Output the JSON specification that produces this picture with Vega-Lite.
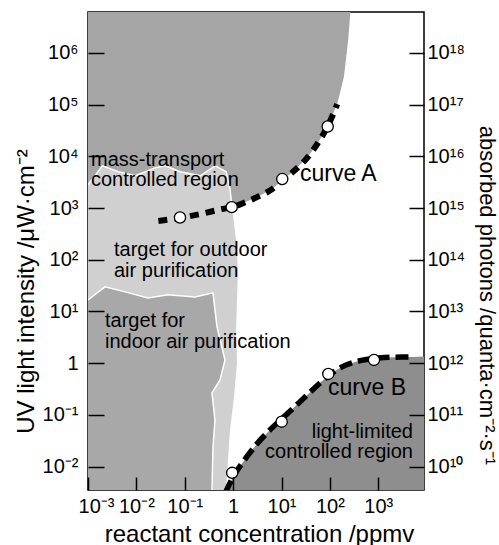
{
  "$schema": "https://vega.github.io/schema/vega-lite/v6.json",
  "width": 336,
  "height": 478,
  "autosize": "none",
  "padding": {"left": 88, "top": 12, "right": 75, "bottom": 55},
  "background": "white",
  "config": {
    "font": "Liberation Sans, Arial, sans-serif",
    "view": {"stroke": "black", "strokeWidth": 1.5},
    "axis": {"domain": false, "grid": false, "labelFontSize": 20, "labelColor": "black", "titleFontSize": 24, "titleFontWeight": "normal", "titleColor": "black", "labelOverlap": false, "labelFlush": false}
  },
  "datasets": {
    "mt": [{"x":0.001,"y":2812},{"x":0.001991,"y":6546},{"x":0.004256,"y":5012},{"x":0.009528,"y":4198},{"x":0.02466,"y":5998},{"x":0.03963,"y":6546},{"x":0.08072,"y":5012},{"x":0.2089,"y":4198},{"x":0.4256,"y":6546},{"x":0.7178,"y":5012},{"x":0.867,"y":2249},{"x":0.9397,"y":1040},{"x":1.766,"y":1288},{"x":3.273,"y":1660},{"x":6.683,"y":2399},{"x":10.38,"y":3467},{"x":17.26,"y":5012},{"x":35.16,"y":9772},{"x":56.62,"y":18197},{"x":89.74,"y":38019},{"x":141.6,"y":102329},{"x":194.5,"y":345100},{"x":235,"y":1567000},{"x":264.9,"y":6152000}],
    "scallop": [{"x":0.001,"y":2812},{"x":0.001991,"y":6546},{"x":0.004256,"y":5012},{"x":0.009528,"y":4198},{"x":0.02466,"y":5998},{"x":0.03963,"y":6546},{"x":0.08072,"y":5012},{"x":0.2089,"y":4198},{"x":0.4256,"y":6546},{"x":0.7178,"y":5012},{"x":0.867,"y":2249},{"x":0.9397,"y":1040}],
    "lg": [{"y":6855,"x":0.8197},{"y":1059,"x":0.9458},{"y":242.7,"x":1.144},{"y":63.83,"x":1.258},{"y":16.75,"x":1.2},{"y":4.406,"x":1.144},{"y":1.014,"x":1.2},{"y":0.2228,"x":1.04},{"y":0.05129,"x":0.8601},{"y":0.01346,"x":0.7819},{"y":0.00354,"x":0.7112},{"y":0.002239,"x":0.691}],
    "indv": [{"x":0.001,"y":16.75},{"x":0.002244,"y":29.92},{"x":0.005818,"y":23.93},{"x":0.01738,"y":18.32},{"x":0.04498,"y":20.94},{"x":0.1626,"y":19.14},{"x":0.3828,"y":22.91}],
    "indh": [{"y":16.03,"x":0.401},{"y":5.035,"x":0.4634},{"y":1.159,"x":0.6776},{"y":0.4753,"x":0.5346},{"y":0.2667,"x":0.3647},{"y":0.08017,"x":0.4206},{"y":0.02404,"x":0.3828},{"y":0.00354,"x":0.3647},{"y":0.002239,"x":0.3647}],
    "outline": [{"o":1,"x":0.001,"y":16.75},{"o":2,"x":0.002244,"y":29.92},{"o":3,"x":0.005818,"y":23.93},{"o":4,"x":0.01738,"y":18.32},{"o":5,"x":0.04498,"y":20.94},{"o":6,"x":0.1626,"y":19.14},{"o":7,"x":0.3828,"y":22.91},{"o":8,"x":0.4634,"y":5.035},{"o":9,"x":0.6776,"y":1.159},{"o":10,"x":0.5346,"y":0.4753},{"o":11,"x":0.3647,"y":0.2667},{"o":12,"x":0.4206,"y":0.08017},{"o":13,"x":0.3828,"y":0.02404},{"o":14,"x":0.3647,"y":0.00354}],
    "ll": [{"x":0.6918,"y":0.003162},{"x":1,"y":0.00631},{"x":1.778,"y":0.01413},{"x":3.162,"y":0.02818},{"x":5.623,"y":0.05012},{"x":10,"y":0.08318},{"x":17.78,"y":0.138},{"x":31.62,"y":0.2291},{"x":56.23,"y":0.3802},{"x":100,"y":0.6026},{"x":177.8,"y":0.8511},{"x":316.2,"y":1.047},{"x":562.3,"y":1.175},{"x":1000,"y":1.259},{"x":1778,"y":1.303},{"x":5012,"y":1.318},{"x":8790,"y":1.349}],
    "curveA": [{"x":0.02844,"y":562.3},{"x":0.0807,"y":645.7},{"x":0.2265,"y":776.2},{"x":0.5848,"y":955},{"x":0.94,"y":1040},{"x":1.766,"y":1288},{"x":3.273,"y":1660},{"x":6.683,"y":2399},{"x":10.38,"y":3467},{"x":17.26,"y":5012},{"x":35.16,"y":9772},{"x":56.62,"y":18197},{"x":89.74,"y":38019},{"x":141.6,"y":102329}],
    "curveB": [{"x":0.6918,"y":0.003162},{"x":1,"y":0.00631},{"x":1.778,"y":0.01413},{"x":3.162,"y":0.02818},{"x":5.623,"y":0.05012},{"x":10,"y":0.08318},{"x":17.78,"y":0.138},{"x":31.62,"y":0.2291},{"x":56.23,"y":0.3802},{"x":100,"y":0.6026},{"x":177.8,"y":0.8511},{"x":316.2,"y":1.047},{"x":562.3,"y":1.175},{"x":1000,"y":1.259},{"x":1778,"y":1.303},{"x":5012,"y":1.318}],
    "pts": [{"x":0.0796,"y":655},{"x":0.933,"y":1040},{"x":10.35,"y":3631},{"x":89.9,"y":37670},{"x":0.955,"y":0.00759},{"x":10.07,"y":0.0741},{"x":92.5,"y":0.621},{"x":813,"y":1.159}],
    "txtL": [{"t":"mass-transport","x":0.001153,"y":6546},{"t":"controlled region","x":0.001153,"y":2692},{"t":"target for outdoor","x":0.003443,"y":120.5},{"t":"air purification","x":0.003443,"y":47.32},{"t":"target for","x":0.002244,"y":5.105},{"t":"indoor air purification","x":0.002244,"y":1.95}],
    "txtC": [{"t":"curve A","x":24.05,"y":3258},{"t":"curve B","x":91.2,"y":0.2438}],
    "txtR": [{"t":"light-limited","x":5200,"y":0.0359},{"t":"controlled region","x":5200,"y":0.01472}],
    "rax": [{"yr":1e10},{"yr":1e18}]
  },
  "layer": [
    {
      "layer": [
        {
          "data": {"name": "lg"},
          "mark": {"type": "area", "orient": "horizontal", "color": "#d0d0d0", "clip": true},
          "encoding": {
            "x": {"field": "x", "type": "quantitative", "scale": {"type": "log", "domain": [0.001, 8790]},
              "axis": {"orient": "bottom", "zindex": 2, "offset": -13, "values": [0.001, 0.01, 0.1, 1, 10, 100, 1000], "ticks": true, "tickColor": "black", "tickWidth": 1.5, "tickOpacity": 1, "tickSize": 13, "labelPadding": 6,
                "labelExpr": "['10⁻³','10⁻²','10⁻¹','1','10¹','10²','10³'][round(log(datum.value)/LN10)+3]",
                "labelOffset": {"condition": {"test": "datum.value < 0.002", "value": 8}, "value": 0},
                "title": "reactant concentration /ppmv", "titleX": 171, "titleY": 64, "titleBaseline": "alphabetic", "titleAlign": "center"}},
            "x2": {"datum": 0.001},
            "y": {"field": "y", "type": "quantitative", "scale": {"type": "log", "domain": [0.00354, 6152000]},
              "axis": {"orient": "left", "zindex": 2, "offset": -16, "values": [0.01, 0.1, 1, 10, 100, 1000, 10000, 100000, 1000000], "ticks": true, "tickColor": "black", "tickWidth": 1.5, "tickOpacity": 1, "tickSize": 16, "labelPadding": 10,
                "labelExpr": "['10⁻²','10⁻¹','1','10¹','10²','10³','10⁴','10⁵','10⁶'][round(log(datum.value)/LN10)+2]",
                "title": "UV light intensity /μW·cm⁻²", "titleX": -71, "titleY": 279, "titleAngle": -90, "titleBaseline": "alphabetic", "titleAlign": "center"}}
          }
        },
        {
          "data": {"name": "indv"},
          "mark": {"type": "area", "orient": "vertical", "color": "#a8a8a8", "clip": true},
          "encoding": {
            "x": {"field": "x", "type": "quantitative", "scale": {"type": "log", "domain": [0.001, 8790]}},
            "y": {"field": "y", "type": "quantitative", "scale": {"type": "log", "domain": [0.00354, 6152000]}},
            "y2": {"datum": 0.003}
          }
        },
        {
          "data": {"name": "indh"},
          "mark": {"type": "area", "orient": "horizontal", "color": "#a8a8a8", "clip": true},
          "encoding": {
            "x": {"field": "x", "type": "quantitative", "scale": {"type": "log", "domain": [0.001, 8790]}},
            "x2": {"datum": 0.001},
            "y": {"field": "y", "type": "quantitative", "scale": {"type": "log", "domain": [0.00354, 6152000]}}
          }
        },
        {
          "data": {"name": "mt"},
          "mark": {"type": "area", "orient": "vertical", "color": "#a5a5a5", "clip": true},
          "encoding": {
            "x": {"field": "x", "type": "quantitative", "scale": {"type": "log", "domain": [0.001, 8790]}},
            "y": {"field": "y", "type": "quantitative", "scale": {"type": "log", "domain": [0.00354, 6152000]}},
            "y2": {"datum": 6152000}
          }
        },
        {
          "data": {"name": "ll"},
          "mark": {"type": "area", "orient": "vertical", "color": "#8e8e8e", "clip": true, "interpolate": "monotone"},
          "encoding": {
            "x": {"field": "x", "type": "quantitative", "scale": {"type": "log", "domain": [0.001, 8790]}},
            "y": {"field": "y", "type": "quantitative", "scale": {"type": "log", "domain": [0.00354, 6152000]}},
            "y2": {"datum": 0.003}
          }
        },
        {
          "data": {"name": "outline"},
          "mark": {"type": "line", "color": "white", "strokeWidth": 1.5, "clip": true},
          "encoding": {
            "x": {"field": "x", "type": "quantitative", "scale": {"type": "log", "domain": [0.001, 8790]}},
            "y": {"field": "y", "type": "quantitative", "scale": {"type": "log", "domain": [0.00354, 6152000]}},
            "order": {"field": "o", "type": "quantitative"}
          }
        },
        {
          "data": {"name": "scallop"},
          "mark": {"type": "line", "color": "white", "strokeWidth": 1.5, "clip": true},
          "encoding": {
            "x": {"field": "x", "type": "quantitative", "scale": {"type": "log", "domain": [0.001, 8790]}},
            "y": {"field": "y", "type": "quantitative", "scale": {"type": "log", "domain": [0.00354, 6152000]}}
          }
        },
        {
          "data": {"name": "curveA"},
          "mark": {"type": "line", "color": "black", "strokeWidth": 6, "strokeDash": [9, 7], "strokeCap": "butt", "interpolate": "monotone", "clip": true},
          "encoding": {
            "x": {"field": "x", "type": "quantitative", "scale": {"type": "log", "domain": [0.001, 8790]}},
            "y": {"field": "y", "type": "quantitative", "scale": {"type": "log", "domain": [0.00354, 6152000]}}
          }
        },
        {
          "data": {"name": "curveB"},
          "mark": {"type": "line", "color": "black", "strokeWidth": 5.5, "strokeDash": [13, 6], "strokeCap": "butt", "interpolate": "monotone", "clip": true},
          "encoding": {
            "x": {"field": "x", "type": "quantitative", "scale": {"type": "log", "domain": [0.001, 8790]}},
            "y": {"field": "y", "type": "quantitative", "scale": {"type": "log", "domain": [0.00354, 6152000]}}
          }
        },
        {
          "data": {"name": "pts"},
          "mark": {"type": "point", "shape": "circle", "filled": true, "fill": "white", "stroke": "black", "strokeWidth": 1.3, "size": 125, "opacity": 1, "clip": true},
          "encoding": {
            "x": {"field": "x", "type": "quantitative", "scale": {"type": "log", "domain": [0.001, 8790]}},
            "y": {"field": "y", "type": "quantitative", "scale": {"type": "log", "domain": [0.00354, 6152000]}}
          }
        },
        {
          "data": {"name": "txtL"},
          "mark": {"type": "text", "align": "left", "baseline": "alphabetic", "fontSize": 20, "color": "black"},
          "encoding": {
            "x": {"field": "x", "type": "quantitative", "scale": {"type": "log", "domain": [0.001, 8790]}},
            "y": {"field": "y", "type": "quantitative", "scale": {"type": "log", "domain": [0.00354, 6152000]}},
            "text": {"field": "t"}
          }
        },
        {
          "data": {"name": "txtC"},
          "mark": {"type": "text", "align": "left", "baseline": "alphabetic", "fontSize": 23, "color": "black"},
          "encoding": {
            "x": {"field": "x", "type": "quantitative", "scale": {"type": "log", "domain": [0.001, 8790]}},
            "y": {"field": "y", "type": "quantitative", "scale": {"type": "log", "domain": [0.00354, 6152000]}},
            "text": {"field": "t"}
          }
        },
        {
          "data": {"name": "txtR"},
          "mark": {"type": "text", "align": "right", "baseline": "alphabetic", "fontSize": 20, "color": "black"},
          "encoding": {
            "x": {"field": "x", "type": "quantitative", "scale": {"type": "log", "domain": [0.001, 8790]}},
            "y": {"field": "y", "type": "quantitative", "scale": {"type": "log", "domain": [0.00354, 6152000]}},
            "text": {"field": "t"}
          }
        }
      ]
    },
    {
      "data": {"name": "rax"},
      "mark": {"type": "rule", "opacity": 0},
      "encoding": {
        "y": {"field": "yr", "type": "quantitative", "scale": {"type": "log", "domain": [3.54e9, 6.152e18]},
          "axis": {"orient": "right", "zindex": 2, "offset": -15, "values": [1e10, 1e11, 1e12, 1e13, 1e14, 1e15, 1e16, 1e17, 1e18], "ticks": true, "tickColor": "black", "tickWidth": 1.5, "tickOpacity": 1, "tickSize": 15, "labelPadding": 3,
            "labelExpr": "['10¹⁰','10¹¹','10¹²','10¹³','10¹⁴','10¹⁵','10¹⁶','10¹⁷','10¹⁸'][round(log(datum.value)/LN10)-10]",
            "title": "absorbed photons /quanta·cm⁻²·s⁻¹", "titleFontSize": 22, "titleX": 70, "titleY": 283, "titleAngle": 90, "titleBaseline": "alphabetic", "titleAlign": "center"}}
      }
    }
  ],
  "resolve": {"scale": {"y": "independent"}, "axis": {"y": "independent"}}
}
